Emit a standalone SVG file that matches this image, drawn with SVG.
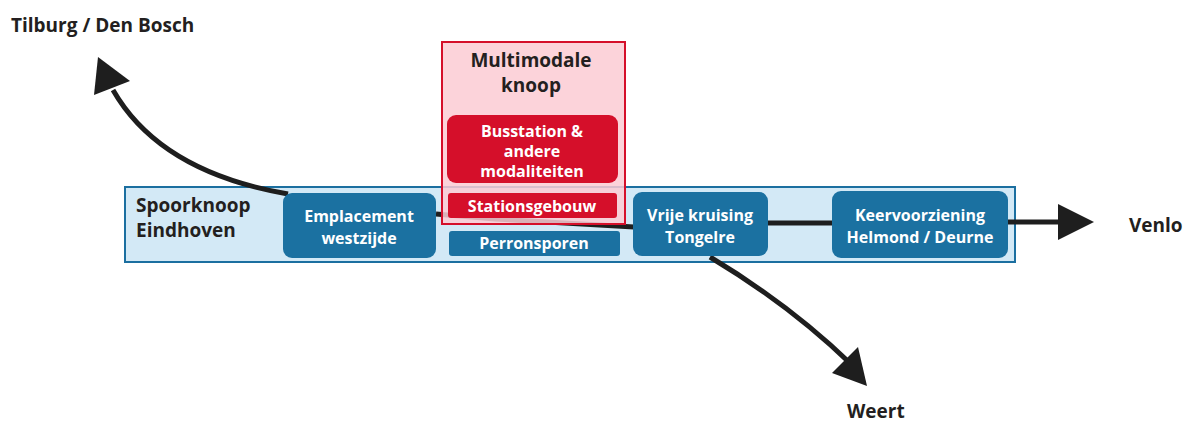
<svg xmlns="http://www.w3.org/2000/svg" width="1185" height="423" viewBox="0 0 1185 423">
<style>
.lbl{font-family:"Open Sans","Liberation Sans",sans-serif;font-weight:700;font-size:19px;fill:#231f20}
.nt{font-family:"Open Sans","Liberation Sans",sans-serif;font-weight:700;font-size:16px;fill:#ffffff;text-anchor:middle}
.bn{fill:#1b71a1}
.rn{fill:#d50f2a}
.ln{fill:none;stroke:#1e1e1e;stroke-width:5}
</style>
<defs>
<marker id="ah" markerUnits="userSpaceOnUse" viewBox="0 0 10 10" refX="0" refY="5" markerWidth="36" markerHeight="38" orient="auto">
<path d="M0,0 L10,5 L0,10 z" fill="#1e1e1e"/>
</marker>
</defs>
<rect id="spoorknoop" x="125" y="187" width="890" height="75" fill="#d3e9f6" stroke="#1b6fa0" stroke-width="2"/>
<g id="connectors">
<path class="ln" d="M436,214 L495,219 L634,227"/>
<path class="ln" d="M768,223 L832,223"/>
<path class="ln" d="M1008,222 L1058,222" stroke-width="6" marker-end="url(#ah)"/>
<path class="ln" d="M288,194 Q160,172 113,90" stroke-width="6"/>
<path d="M98,57 L94,95 L130,81 z" fill="#1e1e1e"/>
<path class="ln" d="M710,257 Q790,305 852,365" stroke-width="6"/>
<path d="M867,386 L832,373 L858,347 z" fill="#1e1e1e"/>
</g>
<g id="emplacement"><rect class="bn" x="283" y="193" width="153" height="65" rx="9"/><text class="nt" x="359" y="222">Emplacement</text><text class="nt" x="359" y="244">westzijde</text></g>
<g id="perronsporen"><rect class="bn" x="449" y="231" width="171" height="25" rx="3"/><text class="nt" x="534" y="249">Perronsporen</text></g>
<g id="vrije"><rect class="bn" x="633" y="192" width="135" height="64" rx="9"/><text class="nt" x="700" y="221">Vrije kruising</text><text class="nt" x="700" y="243">Tongelre</text></g>
<g id="keervoorziening"><rect class="bn" x="832" y="191" width="176" height="67" rx="9"/><text class="nt" x="920" y="221">Keervoorziening</text><text class="nt" x="920" y="243">Helmond / Deurne</text></g>
<g id="multimodaal"><rect x="442" y="42" width="183" height="182" fill="#fccbd3" fill-opacity="0.85" stroke="#d50f2a" stroke-width="2"/><text class="lbl" x="531" y="67" text-anchor="middle">Multimodale</text><text class="lbl" x="531" y="92" text-anchor="middle">knoop</text></g>
<g id="busstation"><rect class="rn" x="447" y="115" width="171" height="68" rx="9"/><text class="nt" x="532" y="137">Busstation &amp;</text><text class="nt" x="532" y="157">andere</text><text class="nt" x="532" y="177">modaliteiten</text></g>
<g id="stationsgebouw"><rect class="rn" x="448" y="193" width="169" height="25" rx="3"/><text class="nt" x="532" y="212">Stationsgebouw</text></g>
<g id="labels">
<text class="lbl" x="136" y="212">Spoorknoop</text>
<text class="lbl" x="136" y="237">Eindhoven</text>
<text class="lbl" x="11" y="32">Tilburg / Den Bosch</text>
<text class="lbl" x="1129" y="232">Venlo</text>
<text class="lbl" x="847" y="418">Weert</text>
</g>
</svg>
